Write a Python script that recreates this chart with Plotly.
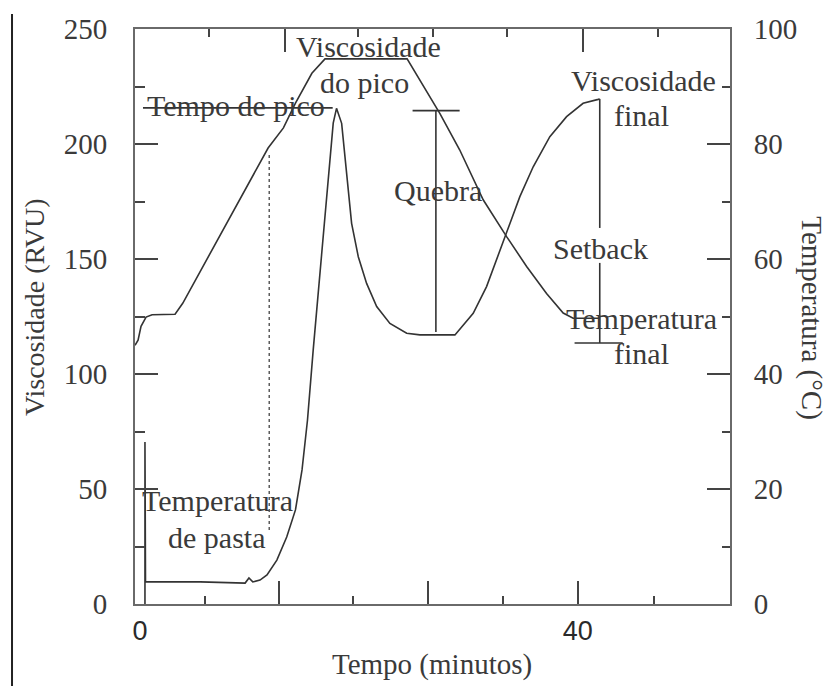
import plotly.graph_objects as go

# ---------------- data ----------------
# Viscosity curve (time in minutes, viscosity in RVU)
visc_time = [0.45, 0.45, 0.5, 5.5, 9.6, 9.95, 10.3, 10.96, 11.6, 12.5, 13.4, 14.2, 14.8,
             15.3, 15.82, 17.65, 17.95, 18.42, 18.88, 19.33, 19.94, 20.70, 21.62, 22.83,
             24.36, 25.57, 28.77, 30.44, 31.66, 32.58, 33.49, 34.70, 35.92, 37.44, 38.97,
             40.48, 41.86, 42.0]
visc_rvu = [0, 70.4, 9.6, 9.6, 9.1, 11.3, 9.6, 10.4, 12.6, 19.1, 29.1, 40.9, 58.3,
            80.0, 110.4, 209.1, 215.5, 209.0, 187.3, 165.5, 151.0, 139.4, 129.3, 122.0,
            117.7, 117.0, 117.0, 126.4, 138.0, 149.6, 161.2, 177.1, 190.1, 203.2, 211.9,
            217.7, 219.4, 219.6]

# Temperature profile (time in minutes, temperature in °C)
temp_time = [-0.46, -0.18, 0.09, 0.55, 1.1, 3.2, 3.9, 11.7, 13.1, 14.2, 15.7, 16.9,
             24.4, 27.4, 29.2, 31.35, 33.49, 35.32, 37.14, 38.66, 39.57, 42.0]
temp_c = [45.0, 45.9, 48.3, 49.9, 50.3, 50.4, 52.3, 79.3, 82.8, 87.1, 92.3, 94.8,
          94.8, 85.3, 79.0, 70.3, 63.9, 58.7, 54.0, 50.6, 49.7, 49.7]

# Marker lines (time, RVU)
peak_time_x = [0.27, 17.6]
peak_time_y = [215.7, 215.7]
paste_x = [11.8, 11.8]
paste_y = [195.2, 30.9]
breakdown_x = [24.9, 29.2, None, 27.03, 27.03]
breakdown_y = [214.5, 214.5, None, 214.5, 118.3]
setback_x = [42.0, 42.0, None, 42.0, 42.0, None, 39.7, 44.1]
setback_y = [219.6, 163.5, None, 148.3, 113.5, None, 113.5, 113.5]

# Labels (text, time, RVU)
labels = [
    ("Viscosidade", 20.9, 242.6),
    ("do pico", 20.5, 226.7),
    ("Tempo de pico", 8.8, 216.7),
    ("Quebra", 27.2, 179.8),
    ("Viscosidade", 46.0, 227.6),
    ("final", 45.8, 212.2),
    ("Setback", 42.1, 154.6),
    ("Temperatura", 45.8, 124.1),
    ("final", 45.8, 108.9),
    ("Temperatura", 7.1, 45.0),
    ("de pasta", 7.0, 28.7),
]

# Axis ticks
x_range = [-0.46, 53.9]
x_major_bottom = [12.69, 26.30, 40.0]
x_minor_bottom = [5.94, 19.45, 33.15, 46.94]
x_major_top = [13.24, 40.46]
x_minor_top = [6.30, 19.91, 26.76, 33.52, 47.31]
x_label_vals = [0, 40]
x_label_text = ["0", "40"]
y_left_major = [0, 50, 100, 150, 200, 250]
y_left_minor = [25, 75, 125, 175, 225]
y_right_major = [0, 20, 40, 60, 80, 100]
y_right_minor = [10, 30, 50, 70, 90]

# ---------------- figure ----------------
SERIF = "Liberation Serif"
TXT = "#3a3a3a"
LINE = "#333333"
AX = "#6a6a6a"

fig = go.Figure()
fig.add_trace(go.Scatter(x=visc_time, y=visc_rvu, mode="lines",
                         line=dict(color=LINE, width=1.6), showlegend=False, hoverinfo="skip"))
fig.add_trace(go.Scatter(x=temp_time, y=temp_c, mode="lines", yaxis="y2",
                         line=dict(color=LINE, width=1.6), showlegend=False, hoverinfo="skip"))
fig.add_trace(go.Scatter(x=peak_time_x, y=peak_time_y, mode="lines",
                         line=dict(color=LINE, width=1.6), showlegend=False, hoverinfo="skip"))
fig.add_trace(go.Scatter(x=paste_x, y=paste_y, mode="lines",
                         line=dict(color=LINE, width=1.2, dash="dot"), showlegend=False, hoverinfo="skip"))
fig.add_trace(go.Scatter(x=breakdown_x, y=breakdown_y, mode="lines",
                         line=dict(color=LINE, width=1.6), showlegend=False, hoverinfo="skip"))
fig.add_trace(go.Scatter(x=setback_x, y=setback_y, mode="lines",
                         line=dict(color=LINE, width=1.6), showlegend=False, hoverinfo="skip"))
# empty traces so the auxiliary x axes are created
fig.add_trace(go.Scatter(x=[None], y=[None], xaxis="x2", showlegend=False, hoverinfo="skip"))
fig.add_trace(go.Scatter(x=[None], y=[None], xaxis="x3", showlegend=False, hoverinfo="skip"))

for text, xv, yv in labels:
    fig.add_annotation(x=xv, y=yv, xref="x", yref="y", text=text, showarrow=False,
                       font=dict(family=SERIF, size=30, color=TXT),
                       xanchor="center", yanchor="middle")

# axis titles
fig.add_annotation(x=-0.1697, y=0.5165, xref="paper", yref="paper", text="Viscosidade (RVU)",
                   showarrow=False, textangle=-90, xanchor="center", yanchor="middle",
                   font=dict(family=SERIF, size=28, color=TXT))
fig.add_annotation(x=1.1378, y=0.497, xref="paper", yref="paper", text="Temperatura (°C)",
                   showarrow=False, textangle=90, xanchor="center", yanchor="middle",
                   font=dict(family=SERIF, size=29, color=TXT))
fig.add_annotation(x=0.499, y=-0.106, xref="paper", yref="paper", text="Tempo (minutos)",
                   showarrow=False, xanchor="center", yanchor="middle",
                   font=dict(family=SERIF, size=29, color=TXT))

# page border line at the left
fig.add_shape(type="line", xref="paper", yref="paper", x0=-0.2067, x1=-0.2067, y0=1.026, y1=-0.145,
              line=dict(color="#222222", width=2))

fig.update_layout(
    width=834, height=686,
    margin=dict(l=135, r=104, t=29, b=82),
    paper_bgcolor="white", plot_bgcolor="white",
    xaxis=dict(range=x_range, showgrid=False, zeroline=False,
               showline=True, linecolor=AX, linewidth=2,
               ticks="inside", tickmode="array", tickvals=x_major_bottom, ticklen=23,
               tickwidth=1.5, tickcolor="#444", showticklabels=False,
               minor=dict(tickmode="array", tickvals=x_minor_bottom, ticks="inside",
                          ticklen=8, tickwidth=1.5, tickcolor="#444", showgrid=False)),
    xaxis2=dict(range=x_range, overlaying="x", side="top", anchor="y", showgrid=False, zeroline=False,
                showline=True, linecolor=AX, linewidth=2,
                ticks="inside", tickmode="array", tickvals=x_major_top, ticklen=23,
                tickwidth=1.5, tickcolor="#444", showticklabels=False,
                minor=dict(tickmode="array", tickvals=x_minor_top, ticks="inside",
                           ticklen=8, tickwidth=1.5, tickcolor="#444", showgrid=False)),
    xaxis3=dict(range=x_range, overlaying="x", side="bottom", anchor="y", showgrid=False,
                zeroline=False, showline=False, ticks="", tickmode="array",
                tickvals=x_label_vals, ticktext=x_label_text, ticklabelstandoff=8,
                tickfont=dict(family="Liberation Sans", size=27, color="#2a2a2a")),
    yaxis=dict(range=[0, 250], showgrid=False, zeroline=False,
               showline=True, linecolor=AX, linewidth=2,
               ticks="inside", tickmode="array", tickvals=y_left_major, ticklen=23,
               tickwidth=1.5, tickcolor="#444", ticklabelstandoff=20,
               tickfont=dict(family=SERIF, size=29, color=TXT),
               minor=dict(tickmode="array", tickvals=y_left_minor, ticks="inside",
                          ticklen=10, tickwidth=1.5, tickcolor="#444", showgrid=False)),
    yaxis2=dict(range=[0, 100], overlaying="y", side="right", anchor="x", showgrid=False,
                zeroline=False, showline=True, linecolor=AX, linewidth=2,
                ticks="inside", tickmode="array", tickvals=y_right_major, ticklen=23,
                tickwidth=1.5, tickcolor="#444", ticklabelstandoff=16,
                tickfont=dict(family=SERIF, size=29, color=TXT),
                minor=dict(tickmode="array", tickvals=y_right_minor, ticks="inside",
                           ticklen=8, tickwidth=1.5, tickcolor="#444", showgrid=False)),
)

fig.write_html("out.html", config={"displayModeBar": False},
               post_script="document.body.style.margin='0px';")
